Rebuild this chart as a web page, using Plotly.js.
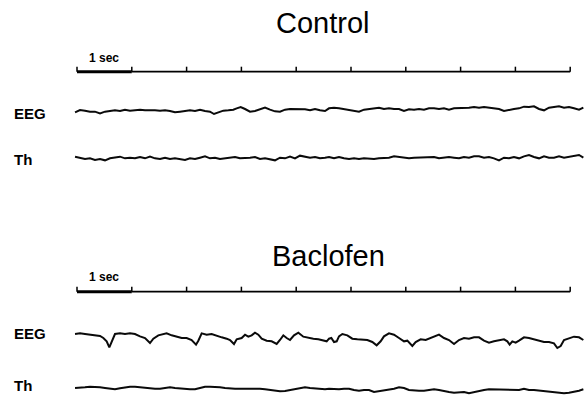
<!DOCTYPE html>
<html>
<head>
<meta charset="utf-8">
<script src="https://cdn.plot.ly/plotly-3.0.1.min.js"></script>
<style>
  html, body { margin: 0; padding: 0; background: #fff; }
  #chart { width: 584px; height: 396px; }
</style>
</head>
<body>
<div id="chart"></div>
<script>
// ---------------- DATA ----------------
// time in seconds, amplitudes in relative units (arbitrary)
const panelTitles = ["Control", "Baclofen"];
const traceLabels = ["EEG", "Th"];
const scaleLabel = "1 sec";
const timeTicks = [0, 1, 2, 3, 4, 5, 6, 7, 8, 9];

// shared sampling times for the thalamic (Th) traces
const thTime = [-0.036,0.055,0.146,0.237,0.328,0.420,0.511,0.602,0.693,0.785,0.876,0.967,1.058,1.150,1.241,1.332,1.423,1.515,1.606,1.697,1.788,1.880,1.971,2.062,2.153,2.245,2.336,2.427,2.518,2.609,2.701,2.792,2.883,2.974,3.066,3.157,3.248,3.339,3.431,3.522,3.613,3.704,3.796,3.887,3.978,4.069,4.161,4.252,4.343,4.434,4.526,
  4.599,4.690,4.781,4.872,4.964,5.055,5.146,5.237,5.328,5.420,5.511,5.602,5.693,5.785,5.876,5.967,6.058,6.150,6.241,6.332,6.423,6.515,6.606,6.697,6.788,6.880,6.971,7.062,7.153,7.245,7.336,7.427,7.518,7.609,7.701,7.792,7.883,7.974,8.066,8.157,8.248,8.339,8.431,8.522,8.613,8.704,8.796,8.887,8.978,9.069,9.161,9.24];

// Control EEG
const ctrlEEGTime = [-0.036,0.055,0.146,0.237,0.328,0.420,0.511,0.602,0.693,0.785,0.876,0.967,1.058,1.150,1.241,1.332,1.423,1.515,1.606,1.697,1.788,1.880,1.971,2.062,2.153,2.245,2.336,2.427,
  2.500,2.579,2.670,2.762,2.853,2.914,2.987,
  3.066,3.157,3.248,3.339,3.431,3.522,3.613,3.704,3.796,3.887,3.978,4.069,4.161,4.252,4.343,4.434,4.526,
  4.599,4.690,4.781,4.872,4.964,5.055,5.146,5.237,5.328,5.420,5.511,5.602,5.693,5.785,5.876,5.967,6.058,6.150,6.241,6.332,6.423,6.515,6.606,6.697,6.788,6.880,6.971,7.062,7.153,7.245,7.336,7.427,7.518,7.609,7.701,7.792,7.883,7.974,8.066,8.157,8.248,8.339,8.431,8.522,8.613,8.704,8.796,8.887,8.978,9.069,9.161,9.24];
const ctrlEEG = [-7,0,-2,-5,-5,-10,-5,-3,-1,-3,1,-2,-1,1,-1,0,-1,-2,-1,-3,-7,-5,-2,-1,-3,1,-3,-5,
  -12,-7,-2,-1,1,5,9,
  3,-5,-3,3,7,1,-4,-5,1,3,3,1,2,-1,3,-1,-3,
  5,7,5,3,1,-1,-5,1,3,5,7,3,5,3,3,-3,2,1,3,1,5,5,3,5,1,5,5,5,7,9,7,9,7,5,3,-3,1,3,5,10,9,11,3,-1,7,9,11,7,9,5,1,7];

// Control Th
const ctrlTh = [4,1,-3,-1,-6,-3,-7,-1,1,4,-1,1,-1,3,-1,4,-1,-3,1,-3,-1,-4,-6,-1,-3,1,5,-1,1,-3,-1,1,3,-1,-1,1,3,-3,-1,-3,-7,1,-1,4,-1,7,3,1,3,-1,1,
  3,-1,3,-1,-3,-1,-3,-1,-3,-3,-1,-1,1,5,3,3,-1,1,1,1,3,3,-1,1,3,1,-1,3,1,5,5,1,3,-1,-7,1,-1,3,-1,5,9,3,-1,5,1,1,5,1,3,5,9,1];

// Baclofen EEG
const bacEEGTime = [-0.036,0.055,0.146,0.237,0.328,0.420,0.481,0.541,0.590,0.633,0.693,0.785,0.876,0.967,1.058,1.150,1.241,1.332,1.393,1.484,1.575,1.636,1.727,1.819,1.910,2.001,2.092,2.172,2.214,2.275,2.366,2.457,2.549,2.640,2.731,2.792,2.865,2.914,3.005,3.066,3.126,3.187,3.248,3.309,3.370,3.461,3.552,3.644,3.704,3.765,3.826,3.887,3.960,4.039,4.130,4.221,4.313,4.404,4.495,
  4.556,4.599,4.641,4.690,4.739,4.781,4.842,4.933,5.024,5.116,5.207,5.298,5.389,5.468,5.541,5.602,5.693,5.785,5.876,5.967,6.028,6.119,6.180,6.271,6.363,6.454,6.545,6.606,6.697,6.788,6.880,6.971,7.062,7.153,7.245,7.336,7.427,7.518,7.609,7.701,7.792,7.853,7.895,7.944,8.005,8.066,8.157,8.248,8.339,8.431,8.522,8.613,8.704,8.765,8.826,8.887,8.978,9.069,9.161,9.24];
const bacEEG = [3,5,3,1,-1,-3,-9,-19,-37,-19,3,5,3,5,3,-4,-9,-24,-11,-1,3,5,-1,-5,-9,-9,-15,-29,-17,5,1,3,-3,-7,-11,-15,-27,-13,-9,1,-5,-1,7,1,-11,-17,-19,-27,-15,-1,-9,-15,-1,7,-5,-9,-11,-13,-17,
  -19,-11,-9,-21,-19,-4,3,-1,-11,-13,-15,-15,-21,-31,-19,-4,5,1,-9,-19,-17,-33,-21,-13,-15,-9,-3,1,-9,-15,-27,-15,-9,-11,-7,-7,-17,-23,-19,-15,-13,-19,-29,-19,-23,-17,-7,-9,-13,-15,-21,-21,-25,-39,-33,-15,-9,-5,-7,-15];

// Baclofen Th
const bacTh = [3,3,5,7,7,5,3,1,-1,2,5,7,7,5,5,3,1,1,3,5,3,1,-1,-1,-1,3,7,7,7,5,3,1,1,1,1,3,3,1,-1,-3,-5,-7,-6,-3,-1,3,5,3,1,-1,-1,
  1,-1,-1,1,1,-3,-5,-3,-3,-9,-7,-3,-1,1,5,3,-3,-5,-5,-5,-3,-1,-3,-7,-9,-11,-9,-9,-13,-9,-7,-3,-1,-1,-1,-3,-3,-3,-3,1,-3,-3,-5,-7,-9,-9,-11,-13,-11,-9,-5,-1];

// ---------------- LAYOUT HELPERS ----------------
const W = 584, H = 396;
const X0PX = 77, PXPERSEC = 54.8;          // t = 0 s at pixel 77
const UNITS_PER_PX = 3;
const py = p => 1 - p / H;                  // pixel row -> paper y
const px = p => p / W;                      // pixel column -> paper x

function yAxis(topPx, botPx, basePx) {
  return {
    domain: [py(botPx), py(topPx)],
    range: [(basePx - botPx) * UNITS_PER_PX, (basePx - topPx) * UNITS_PER_PX],
    visible: false, fixedrange: true
  };
}

const lineStyle = { color: '#0a0a0a', width: 2 };
const traces = [
  { x: ctrlEEGTime, y: ctrlEEG, yaxis: 'y',  type: 'scatter', mode: 'lines', line: lineStyle, hoverinfo: 'skip' },
  { x: thTime,      y: ctrlTh,  yaxis: 'y2', type: 'scatter', mode: 'lines', line: lineStyle, hoverinfo: 'skip' },
  { x: bacEEGTime,  y: bacEEG,  yaxis: 'y3', type: 'scatter', mode: 'lines', line: lineStyle, hoverinfo: 'skip' },
  { x: thTime,      y: bacTh,   yaxis: 'y4', type: 'scatter', mode: 'lines', line: lineStyle, hoverinfo: 'skip' }
];

// time-scale bars
const barRows = [71.7, 291.7];
const shapes = [];
barRows.forEach(row => {
  shapes.push({ type: 'line', xref: 'x', yref: 'paper', x0: timeTicks[0], x1: timeTicks[1], y0: py(row), y1: py(row), line: { color: '#000', width: 3 } });
  shapes.push({ type: 'line', xref: 'x', yref: 'paper', x0: timeTicks[1], x1: timeTicks[timeTicks.length - 1], y0: py(row), y1: py(row), line: { color: '#000', width: 1.8 } });
  timeTicks.forEach(t => {
    shapes.push({ type: 'line', xref: 'x', yref: 'paper', x0: t, x1: t, y0: py(row), y1: py(row - 5), line: { color: '#000', width: 1.5 } });
  });
});

const titleFont = { family: 'Liberation Sans, Arial, sans-serif', size: 29, color: '#000' };
const labelFont = { family: 'Liberation Sans, Arial, sans-serif', size: 15, color: '#000', weight: 'bold' };
const scaleFont = { family: 'Liberation Sans Narrow, Arial Narrow, Liberation Sans, sans-serif', size: 12, color: '#000', weight: 'bold' };

const annotations = [
  { text: panelTitles[0], xref: 'paper', yref: 'paper', x: px(323), y: py(23), xanchor: 'center', yanchor: 'middle', showarrow: false, font: titleFont },
  { text: panelTitles[1], xref: 'paper', yref: 'paper', x: px(328), y: py(256), xanchor: 'center', yanchor: 'middle', showarrow: false, font: titleFont },
  { text: scaleLabel, xref: 'x', yref: 'paper', x: 0.5, y: py(58), xanchor: 'center', yanchor: 'middle', showarrow: false, font: scaleFont },
  { text: scaleLabel, xref: 'x', yref: 'paper', x: 0.5, y: py(277), xanchor: 'center', yanchor: 'middle', showarrow: false, font: scaleFont },
  { text: traceLabels[0], xref: 'paper', yref: 'paper', x: px(12), y: py(113), xanchor: 'left', yanchor: 'middle', showarrow: false, font: labelFont },
  { text: traceLabels[1], xref: 'paper', yref: 'paper', x: px(12), y: py(159), xanchor: 'left', yanchor: 'middle', showarrow: false, font: labelFont },
  { text: traceLabels[0], xref: 'paper', yref: 'paper', x: px(12), y: py(333), xanchor: 'left', yanchor: 'middle', showarrow: false, font: labelFont },
  { text: traceLabels[1], xref: 'paper', yref: 'paper', x: px(12), y: py(385), xanchor: 'left', yanchor: 'middle', showarrow: false, font: labelFont }
];

const layout = {
  width: W, height: H,
  margin: { l: 0, r: 0, t: 0, b: 0, pad: 0 },
  paper_bgcolor: '#fff', plot_bgcolor: '#fff',
  showlegend: false,
  xaxis: { range: [-X0PX / PXPERSEC, (W - X0PX) / PXPERSEC], visible: false, fixedrange: true },
  yaxis:  yAxis(90, 130, 110),
  yaxis2: yAxis(140, 176, 158),
  yaxis3: yAxis(312, 362, 335),
  yaxis4: yAxis(372, 396, 389),
  shapes: shapes,
  annotations: annotations
};

Plotly.newPlot('chart', traces, layout, { staticPlot: true, displayModeBar: false });
</script>
</body>
</html>
